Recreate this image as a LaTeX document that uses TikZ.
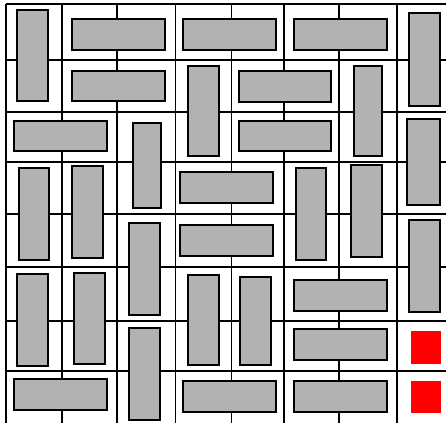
\documentclass[tikz,border=0pt]{standalone}

\begin{document}
\begin{tikzpicture}[x=1pt, y=-1pt,
  gridline/.style={line width=1.6},
  domino/.style={draw, line width=1.6, fill=black!30},
  hole/.style={fill=red}]

  \clip (0,0) rectangle (446,422);
  \useasboundingbox (0,0) rectangle (446,422);

  % the board
  \foreach \gx in {6,62,117,175.5,231.5,284,339,397}
  {
      \draw[gridline] (\gx,4) -- (\gx,430);
  }
  \foreach \gy in {4,60,112,162,214,267,321,371}
  {
      \draw[gridline] (6,\gy) -- (452,\gy);
  }

  % the dominoes, row by row
  \foreach \xa/\ya/\xb/\yb in
    {
        17/10/48/101, 72/19/165/50, 183/19/276/50, 294/19/387/50, 409/13/440/106,
        72/71/165/101, 188/66/219/156, 239/71/331/102, 354/66/382/156,
        14/121/107/151, 133/123/161/208, 239/121/331/151, 407/119/440/205,
        19/168/49/260, 72/166/103/258, 180/172/273/203, 296/168/326/260, 351/165/382/257,
        129/223/160/315, 180/225/273/256, 409/220/440/312,
        17/274/48/366, 74/273/105/364, 188/275/219/365, 240/277/271/365, 294/280/387/311,
        294/329/387/360,
        14/379/107/410, 129/328/160/420, 183/381/276/412, 294/381/387/412
    }
    {
        \draw[domino] (\xa,\ya) rectangle (\xb,\yb);
    }

  % the two cells left uncovered
  \fill[hole] (411,331) rectangle (441,364);
  \fill[hole] (411,381) rectangle (441,413);

\end{tikzpicture}
\end{document}
